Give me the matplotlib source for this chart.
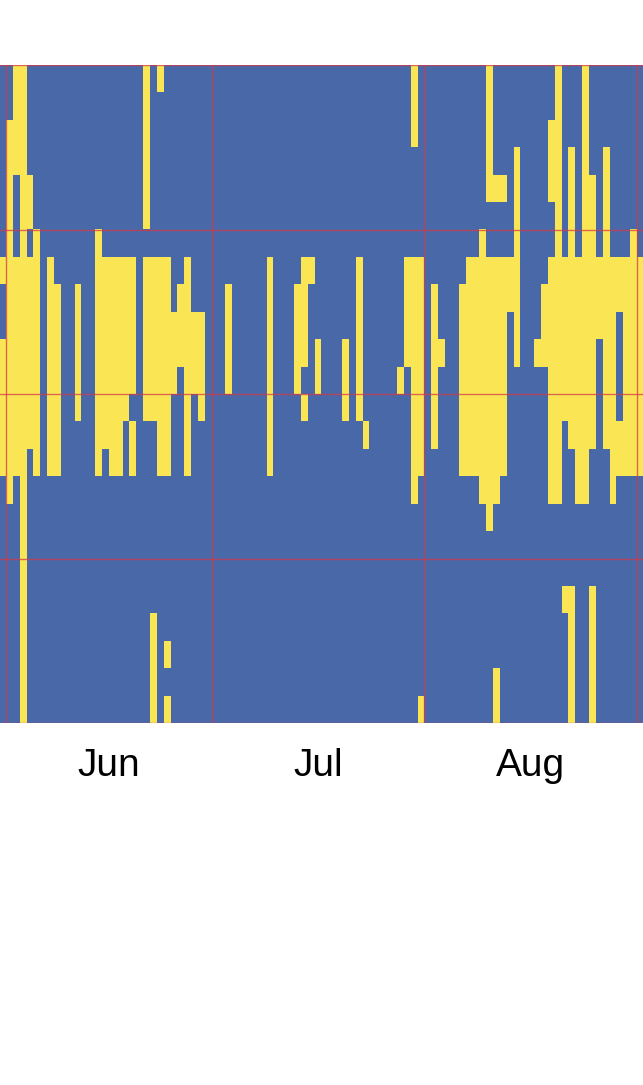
import matplotlib
matplotlib.use("Agg")
import matplotlib.pyplot as plt
from matplotlib.colors import ListedColormap
import numpy as np
import pandas as pd

# ---- data -------------------------------------------------------------
days = pd.date_range("2023-05-31", "2023-09-01", freq="D")
hours = list(range(24))
month_labels = ["Jun", "Jul", "Aug"]

# active (yellow) hour runs per day, inclusive (start_hour, end_hour)
active_runs = {
    "2023-05-31": [(7, 7), (10, 14)],
    "2023-06-01": [(2, 15)],
    "2023-06-02": [(0, 3), (7, 14)],
    "2023-06-03": [(0, 23)],
    "2023-06-04": [(4, 5), (7, 13)],
    "2023-06-05": [(6, 14)],
    "2023-06-07": [(7, 14)],
    "2023-06-08": [(8, 14)],
    "2023-06-11": [(8, 12)],
    "2023-06-14": [(6, 14)],
    "2023-06-15": [(7, 13)],
    "2023-06-16": [(7, 14)],
    "2023-06-17": [(7, 14)],
    "2023-06-18": [(7, 12)],
    "2023-06-19": [(7, 11), (13, 14)],
    "2023-06-21": [(0, 5), (7, 12)],
    "2023-06-22": [(7, 12), (20, 23)],
    "2023-06-23": [(0, 0), (7, 14)],
    "2023-06-24": [(7, 14), (21, 21), (23, 23)],
    "2023-06-25": [(9, 11)],
    "2023-06-26": [(8, 10)],
    "2023-06-27": [(7, 14)],
    "2023-06-28": [(9, 11)],
    "2023-06-29": [(9, 12)],
    "2023-07-03": [(8, 11)],
    "2023-07-09": [(7, 14)],
    "2023-07-13": [(8, 11)],
    "2023-07-14": [(7, 10), (12, 12)],
    "2023-07-15": [(7, 7)],
    "2023-07-16": [(10, 11)],
    "2023-07-20": [(10, 12)],
    "2023-07-22": [(7, 12)],
    "2023-07-23": [(13, 13)],
    "2023-07-28": [(11, 11)],
    "2023-07-29": [(7, 10)],
    "2023-07-30": [(0, 2), (7, 15)],
    "2023-07-31": [(7, 14), (23, 23)],
    "2023-08-02": [(8, 13)],
    "2023-08-03": [(10, 10)],
    "2023-08-06": [(8, 14)],
    "2023-08-07": [(7, 14)],
    "2023-08-08": [(7, 14)],
    "2023-08-09": [(6, 15)],
    "2023-08-10": [(0, 4), (7, 16)],
    "2023-08-11": [(4, 4), (7, 15), (22, 23)],
    "2023-08-12": [(4, 4), (7, 14)],
    "2023-08-13": [(7, 8)],
    "2023-08-14": [(3, 10)],
    "2023-08-17": [(10, 10)],
    "2023-08-18": [(8, 10)],
    "2023-08-19": [(2, 4), (7, 15)],
    "2023-08-20": [(0, 15)],
    "2023-08-21": [(7, 12), (19, 19)],
    "2023-08-22": [(3, 13), (19, 23)],
    "2023-08-23": [(7, 15)],
    "2023-08-24": [(0, 15)],
    "2023-08-25": [(4, 13), (19, 23)],
    "2023-08-26": [(7, 9)],
    "2023-08-27": [(3, 13)],
    "2023-08-28": [(7, 15)],
    "2023-08-29": [(7, 8), (13, 14)],
    "2023-08-30": [(7, 14)],
    "2023-08-31": [(6, 14)],
    "2023-09-01": [(7, 14)],
}

# ---- build matrix ------------------------------------------------------
M = np.zeros((len(hours), len(days)))
for j, d in enumerate(days):
    for s, e in active_runs.get(d.strftime("%Y-%m-%d"), []):
        M[s:e + 1, j] = 1

ref = pd.Timestamp("2023-06-01")
x0 = (days[0] - ref).days  # -1

W, H = 643, 1085
fig = plt.figure(figsize=(W / 100, H / 100), dpi=100)
ax = fig.add_axes([0, (H - 723) / H, 1, (723 - 65) / H])

cmap = ListedColormap(["#4868A8", "#FAE655"])
ax.imshow(M, cmap=cmap, vmin=0, vmax=1, aspect="auto", interpolation="nearest",
          extent=(x0, x0 + len(days), 24, 0))

ax.set_xlim(-0.875, 92.875)
ax.set_ylim(24, 0)

# month boundaries and mid-month ticks
month_starts = [(pd.Timestamp(f"2023-{m:02d}-01") - ref).days for m in (6, 7, 8, 9)]
mids = [(a + b) / 2 for a, b in zip(month_starts[:-1], month_starts[1:])]
for xs in month_starts:
    ax.axvline(xs, color="#d23a4a", lw=1.0, alpha=0.75)
for ys in range(0, 25, 6):
    ax.axhline(ys, color="#d23a4a", lw=1.0, alpha=0.75)

ax.set_xticks(mids)
ax.set_xticklabels(month_labels, fontsize=28, family="Liberation Sans")
ax.tick_params(axis="x", length=0, pad=18)
ax.set_yticks([])
for sp in ax.spines.values():
    sp.set_visible(False)

fig.savefig("out.png", dpi=100)
